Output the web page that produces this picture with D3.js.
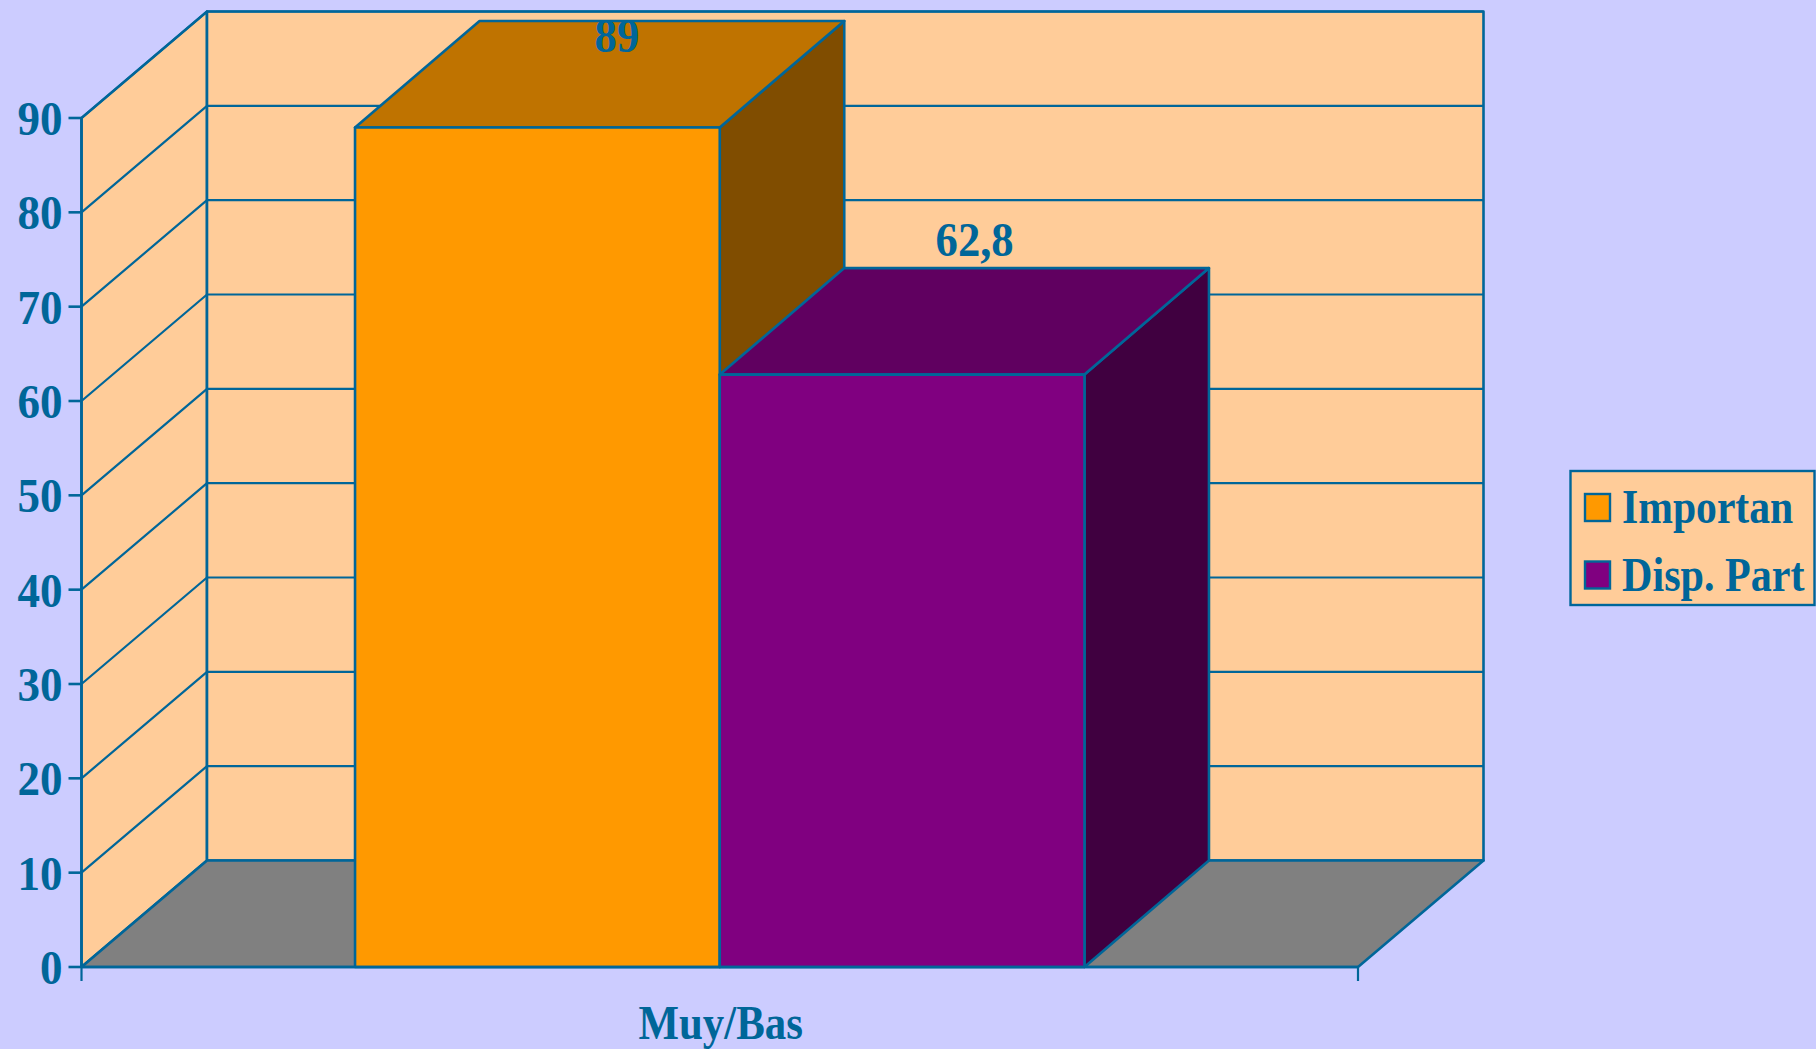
<!DOCTYPE html>
<html>
<head>
<meta charset="utf-8">
<script src="https://cdn.jsdelivr.net/npm/d3@7"></script>
<style>
  html, body { margin: 0; padding: 0; background: #ccccff; }
  svg { display: block; }
  text { font-family: "Liberation Serif", serif; font-weight: bold; fill: #006699; }
</style>
</head>
<body>
<script>
let categories = ['Muy/Bas'];
let seriesNames = ['Importan', 'Disp. Part'];
let seriesValues = [89, 62.8];
let valueLabels = ['89', '62,8'];
let yTicks = [0, 10, 20, 30, 40, 50, 60, 70, 80, 90];

let w = 1816;
let h = 1049;
let lineColor = '#006699';
let frontColors = ['#ff9900', '#800080'];
let topColors = ['#bf7300', '#600060'];
let sideColors = ['#804d00', '#400040'];
let labelShiftX = [79.5, 72.5];

let left = 81.5;
let right = 1358;
let bottom = 967;
let top90 = 118;
let depthX = 125.5;
let depthY = 106.5;
let barDepthX = 124.5;
let fontSize = 49;

let yScale = d3.scaleLinear().domain([0, 90]).range([bottom, top90]);
let catScale = d3.scaleBand().domain(categories).range([left, right]);
let serScale = d3.scaleBand()
  .domain(seriesNames)
  .range([catScale(categories[0]), catScale(categories[0]) + catScale.bandwidth()])
  .paddingOuter(0.75);

let svg = d3.select('body').append('svg')
  .attr('width', w)
  .attr('height', h);

svg.append('rect')
  .attr('width', w)
  .attr('height', h)
  .attr('fill', '#ccccff');

function poly(points, fill) {
  svg.append('polygon')
    .attr('points', points.map((p) => p.join(',')).join(' '))
    .attr('fill', fill)
    .attr('stroke', lineColor)
    .attr('stroke-width', 2.6)
    .attr('stroke-linejoin', 'round');
}

// the original text is squeezed sideways, so each text gets its own x scale
function squeezedText(x, y, str, anchor, squeeze) {
  svg.append('text')
    .attr('transform', 'translate(' + x + ',' + y + ') scale(' + squeeze + ',1)')
    .attr('text-anchor', anchor)
    .attr('font-size', fontSize)
    .text(str);
}

let yTop = yScale(90);

// side wall, back wall, floor
poly([[left, bottom], [left + depthX, bottom - depthY], [left + depthX, yTop - depthY], [left, yTop]], '#ffcc99');
poly([[left + depthX, bottom - depthY], [right + depthX, bottom - depthY], [right + depthX, yTop - depthY], [left + depthX, yTop - depthY]], '#ffcc99');
poly([[left, bottom], [right, bottom], [right + depthX, bottom - depthY], [left + depthX, bottom - depthY]], '#808080');

// gridlines
svg.selectAll('.grid')
  .data(yTicks.slice(1, -1).concat(90))
  .enter()
  .append('path')
  .attr('class', 'grid')
  .attr('fill', 'none')
  .attr('stroke', lineColor)
  .attr('stroke-width', 2.2)
  .attr('d', (d) => {
    let y = yScale(d);
    return 'M' + left + ',' + y + 'L' + (left + depthX) + ',' + (y - depthY) + 'L' + (right + depthX) + ',' + (y - depthY);
  });

// y axis
let yAxis = d3.axisLeft(yScale)
  .tickValues(yTicks)
  .tickSize(13)
  .tickSizeOuter(0)
  .offset(0);

let axisG = svg.append('g')
  .attr('transform', 'translate(' + left + ',0)')
  .call(yAxis);

axisG.select('.domain')
  .attr('stroke', lineColor)
  .attr('stroke-width', 2.6);
axisG.selectAll('line')
  .attr('stroke', lineColor)
  .attr('stroke-width', 2.6);
axisG.selectAll('text').remove();

yTicks.forEach((t) => {
  squeezedText(62.5, yScale(t) + 17, String(t), 'end', 0.92);
});

// x axis ticks
[left, right].forEach((x) => {
  svg.append('line')
    .attr('x1', x).attr('x2', x)
    .attr('y1', bottom).attr('y2', bottom + 14)
    .attr('stroke', lineColor)
    .attr('stroke-width', 2.2);
});

// bars
seriesNames.forEach((name, i) => {
  let x0 = serScale(name);
  let x1 = x0 + serScale.bandwidth();
  let y1 = yScale(seriesValues[i]);
  poly([[x1, bottom], [x1 + barDepthX, bottom - depthY], [x1 + barDepthX, y1 - depthY], [x1, y1]], sideColors[i]);
  poly([[x0, y1], [x1, y1], [x1 + barDepthX, y1 - depthY], [x0 + barDepthX, y1 - depthY]], topColors[i]);
  poly([[x0, bottom], [x1, bottom], [x1, y1], [x0, y1]], frontColors[i]);
});

svg.append('line')
  .attr('x1', left).attr('x2', right)
  .attr('y1', bottom).attr('y2', bottom)
  .attr('stroke', lineColor)
  .attr('stroke-width', 2.6);

// value labels, the tall bar's label is pushed down to stay in the picture
seriesNames.forEach((name, i) => {
  let x = serScale(name) + serScale.bandwidth() / 2 + labelShiftX[i];
  let y = Math.max(52, yScale(seriesValues[i]) - depthY - 12);
  squeezedText(x, y, valueLabels[i], 'middle', 0.91);
});

// category label
squeezedText(catScale(categories[0]) + catScale.bandwidth() / 2 + 1, 1039, categories[0], 'middle', 0.875);

// legend
svg.append('rect')
  .attr('x', 1570.5).attr('y', 471)
  .attr('width', 244).attr('height', 134)
  .attr('fill', '#ffcc99')
  .attr('stroke', lineColor)
  .attr('stroke-width', 2.4);

let legendSqueeze = [0.85, 0.86];
seriesNames.forEach((name, i) => {
  let y = 494 + i * 67.5;
  svg.append('rect')
    .attr('x', 1585).attr('y', y)
    .attr('width', 25).attr('height', 27)
    .attr('fill', frontColors[i])
    .attr('stroke', lineColor)
    .attr('stroke-width', 2.4);
  squeezedText(1622, y + 29, name, 'start', legendSqueeze[i]);
});
</script>
</body>
</html>
